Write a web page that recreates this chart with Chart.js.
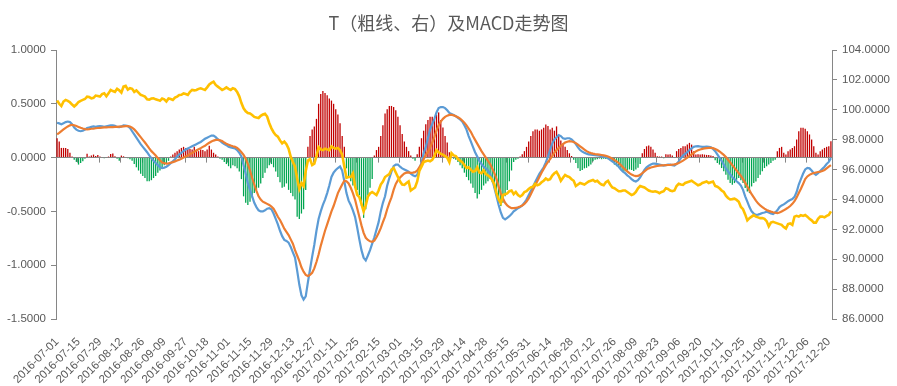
<!DOCTYPE html>
<html>
<head>
<meta charset="utf-8">
<script src="https://cdn.jsdelivr.net/npm/chart.js@4.4.1/dist/chart.umd.min.js"></script>
<style>
    body { margin: 0; background: #fff; }
    #wrap { width: 897px; height: 386px; }
</style>
</head>
<body>
<div id="wrap"><canvas id="macdChart"></canvas></div>
<script>
// Tick labels on the x axis (one every 10 trading days)
const tickLabels = [
    '2016-07-01','2016-07-15','2016-07-29','2016-08-12','2016-08-26','2016-09-09','2016-09-27',
    '2016-10-18','2016-11-01','2016-11-15','2016-11-29','2016-12-13','2016-12-27','2017-01-11',
    '2017-01-25','2017-02-15','2017-03-01','2017-03-15','2017-03-29','2017-04-14','2017-04-28',
    '2017-05-15','2017-05-31','2017-06-14','2017-06-28','2017-07-12','2017-07-26','2017-08-09',
    '2017-08-23','2017-09-06','2017-09-20','2017-10-11','2017-10-25','2017-11-08','2017-11-22',
    '2017-12-06','2017-12-20'
];

// T futures close (right axis, thick yellow line)
const tPrice = [
    100.62,100.4,100.25,100.55,100.66,100.6,100.5,100.35,100.22,100.35,
    100.52,100.6,100.66,100.72,100.88,100.85,100.77,100.8,100.95,100.92,
    100.88,101.05,101.1,100.9,101.1,101.33,101.25,101.2,101.4,101.3,
    101.15,101.55,101.6,101.35,101.45,101.4,101.2,101.3,101.15,101.0,
    100.95,100.88,100.7,100.68,100.75,100.77,100.7,100.66,100.6,100.75,
    100.7,100.55,100.75,100.72,100.66,100.82,100.88,100.99,101.0,101.1,
    101.05,100.99,101.2,101.33,101.3,101.33,101.4,101.44,101.38,101.33,
    101.5,101.7,101.8,101.88,101.66,101.55,101.44,101.33,101.4,101.5,
    101.4,101.33,101.44,101.38,101.2,100.9,100.45,100.1,99.9,99.78,
    99.75,99.65,99.52,99.48,99.45,99.6,99.68,99.73,99.55,99.1,
    98.76,98.5,98.3,98.2,97.95,97.75,97.87,97.7,97.4,96.85,
    96.5,96.2,95.4,94.7,95.1,94.9,95.9,96.6,96.7,96.3,
    96.4,96.9,97.5,97.35,97.3,97.4,97.35,97.3,97.55,97.45,
    97.4,97.45,97.3,97.0,96.2,95.45,95.5,95.5,95.75,94.9,
    94.3,94.15,93.7,93.2,93.6,94.2,94.4,94.5,94.4,94.3,
    94.6,95.0,95.2,95.5,95.6,95.7,96.0,96.1,95.8,95.5,
    95.2,95.0,94.97,95.1,95.2,94.6,94.7,94.8,95.2,95.9,
    96.2,96.5,96.55,96.6,96.55,96.65,96.9,97.3,97.15,97.05,
    97.0,96.9,96.8,96.5,97.1,96.95,96.9,96.7,96.6,96.5,
    96.3,96.1,96.15,96.0,95.85,95.9,96.15,95.8,95.75,95.95,
    95.7,95.6,95.5,95.3,95.0,94.4,94.0,93.75,94.3,94.35,
    94.4,94.55,94.6,94.35,94.5,94.3,94.2,94.3,94.5,94.55,
    94.7,94.8,94.85,95.05,94.95,95.0,95.15,95.25,95.4,95.3,
    95.35,95.6,95.75,95.85,95.6,95.25,95.45,95.64,95.55,95.5,
    95.35,95.25,94.9,95.0,95.1,95.05,95.0,95.1,95.2,95.25,
    95.3,95.2,95.25,95.1,95.0,94.95,95.15,95.25,95.0,94.8,
    94.75,94.65,94.55,94.55,94.6,94.6,94.5,94.4,94.3,94.35,
    94.5,94.75,94.9,94.85,94.8,94.7,94.6,94.55,94.52,94.55,
    94.5,94.42,94.5,94.55,94.75,94.7,94.6,94.55,94.6,94.9,
    95.05,95.0,94.97,95.1,95.15,95.2,95.25,95.15,95.05,94.95,
    95.0,95.1,95.15,95.2,95.1,95.15,95.2,94.9,94.85,94.75,
    94.6,94.5,94.25,94.1,94.0,94.02,94.05,93.97,93.85,93.5,
    93.35,93.0,92.6,92.75,92.85,92.95,92.85,92.8,92.75,92.75,
    92.7,92.55,92.2,92.45,92.5,92.45,92.4,92.35,92.3,92.15,
    92.05,92.35,92.4,92.3,92.85,92.9,92.85,92.95,92.9,92.96,
    92.85,92.7,92.6,92.45,92.45,92.7,92.85,92.85,92.8,92.9,
    92.96,93.2
];

// DIF (blue line, left axis)
const dif = [
    0.324,0.318,0.31,0.32,0.33,0.335,0.33,0.31,0.28,0.26,
    0.25,0.245,0.25,0.26,0.275,0.28,0.285,0.29,0.285,0.29,
    0.293,0.29,0.285,0.29,0.295,0.3,0.3,0.295,0.285,0.283,
    0.29,0.3,0.298,0.293,0.275,0.245,0.215,0.185,0.155,0.125,
    0.1,0.075,0.05,0.02,-0.005,-0.03,-0.05,-0.07,-0.09,-0.097,
    -0.093,-0.085,-0.07,-0.052,-0.035,-0.015,0.01,0.03,0.044,0.06,
    0.075,0.085,0.095,0.105,0.115,0.125,0.135,0.145,0.16,0.175,
    0.185,0.195,0.205,0.205,0.19,0.17,0.158,0.14,0.125,0.115,
    0.1,0.095,0.09,0.085,0.07,0.045,0.012,-0.07,-0.15,-0.24,
    -0.3,-0.36,-0.42,-0.46,-0.49,-0.5,-0.5,-0.49,-0.475,-0.47,
    -0.48,-0.52,-0.57,-0.62,-0.68,-0.73,-0.765,-0.775,-0.79,-0.83,
    -0.88,-0.93,-1.05,-1.18,-1.28,-1.32,-1.29,-1.16,-1.04,-0.92,
    -0.81,-0.68,-0.57,-0.5,-0.44,-0.39,-0.33,-0.26,-0.18,-0.14,
    -0.115,-0.097,-0.082,-0.12,-0.22,-0.33,-0.4,-0.44,-0.49,-0.55,
    -0.65,-0.76,-0.86,-0.93,-0.955,-0.91,-0.86,-0.8,-0.74,-0.67,
    -0.6,-0.5,-0.42,-0.36,-0.26,-0.19,-0.13,-0.08,-0.065,-0.065,
    -0.085,-0.1,-0.11,-0.12,-0.13,-0.15,-0.165,-0.174,-0.16,-0.1,
    -0.05,0.04,0.1,0.18,0.26,0.31,0.36,0.42,0.46,0.47,
    0.47,0.46,0.44,0.415,0.405,0.395,0.385,0.37,0.355,0.335,
    0.3,0.26,0.2,0.15,0.1,0.05,0.01,-0.03,-0.06,-0.085,
    -0.1,-0.12,-0.15,-0.2,-0.28,-0.36,-0.44,-0.51,-0.56,-0.575,
    -0.56,-0.545,-0.525,-0.5,-0.485,-0.47,-0.46,-0.445,-0.42,-0.39,
    -0.35,-0.31,-0.27,-0.23,-0.19,-0.15,-0.12,-0.09,-0.045,0.01,
    0.07,0.13,0.17,0.19,0.21,0.2,0.18,0.175,0.18,0.18,
    0.17,0.15,0.125,0.095,0.07,0.055,0.045,0.035,0.03,0.028,
    0.025,0.022,0.02,0.018,0.012,0.008,0.005,-0.005,-0.02,-0.035,
    -0.05,-0.065,-0.085,-0.11,-0.13,-0.145,-0.165,-0.18,-0.2,-0.215,
    -0.222,-0.21,-0.185,-0.15,-0.115,-0.09,-0.075,-0.065,-0.055,-0.056,
    -0.06,-0.065,-0.07,-0.075,-0.07,-0.065,-0.065,-0.07,-0.075,-0.06,
    -0.035,-0.005,0.02,0.035,0.05,0.07,0.085,0.1,0.105,0.106,
    0.103,0.1,0.1,0.102,0.1,0.095,0.08,0.06,0.03,0.0,
    -0.03,-0.065,-0.1,-0.128,-0.155,-0.18,-0.2,-0.22,-0.237,-0.26,
    -0.3,-0.36,-0.41,-0.46,-0.5,-0.52,-0.533,-0.53,-0.523,-0.515,
    -0.51,-0.503,-0.51,-0.52,-0.525,-0.51,-0.49,-0.46,-0.445,-0.435,
    -0.42,-0.405,-0.395,-0.385,-0.365,-0.32,-0.25,-0.2,-0.15,-0.11,
    -0.095,-0.1,-0.12,-0.145,-0.16,-0.145,-0.125,-0.105,-0.085,-0.06,
    -0.04,-0.005
];

// DEA (orange line, left axis)
const dea = [
    0.215,0.23,0.246,0.262,0.277,0.29,0.3,0.305,0.3,0.293,
    0.285,0.277,0.27,0.265,0.263,0.265,0.268,0.27,0.273,0.275,
    0.277,0.279,0.28,0.281,0.282,0.283,0.284,0.285,0.286,0.287,
    0.288,0.29,0.292,0.292,0.288,0.278,0.262,0.24,0.215,0.19,
    0.165,0.14,0.113,0.085,0.06,0.04,0.02,-0.005,-0.025,-0.045,
    -0.052,-0.056,-0.054,-0.048,-0.042,-0.035,-0.027,-0.019,-0.01,0.0,
    0.01,0.02,0.033,0.043,0.055,0.066,0.078,0.088,0.1,0.11,
    0.125,0.138,0.15,0.158,0.164,0.165,0.16,0.154,0.14,0.128,
    0.12,0.112,0.105,0.1,0.09,0.072,0.05,0.025,-0.01,-0.06,
    -0.12,-0.19,-0.25,-0.31,-0.36,-0.39,-0.41,-0.42,-0.43,-0.44,
    -0.455,-0.475,-0.51,-0.55,-0.58,-0.62,-0.66,-0.69,-0.72,-0.76,
    -0.8,-0.86,-0.91,-0.96,-1.02,-1.06,-1.09,-1.1,-1.09,-1.07,
    -1.03,-0.97,-0.9,-0.82,-0.75,-0.68,-0.62,-0.56,-0.5,-0.45,
    -0.39,-0.33,-0.29,-0.25,-0.215,-0.22,-0.24,-0.28,-0.33,-0.39,
    -0.47,-0.55,-0.63,-0.7,-0.745,-0.765,-0.778,-0.782,-0.772,-0.74,
    -0.7,-0.655,-0.6,-0.548,-0.48,-0.42,-0.37,-0.3,-0.245,-0.21,
    -0.185,-0.165,-0.148,-0.14,-0.137,-0.142,-0.14,-0.135,-0.12,-0.09,
    -0.06,-0.015,0.025,0.05,0.09,0.14,0.19,0.25,0.3,0.335,
    0.36,0.378,0.39,0.397,0.398,0.393,0.385,0.375,0.363,0.345,
    0.325,0.3,0.27,0.24,0.2,0.165,0.13,0.095,0.06,0.03,
    0.0,-0.03,-0.06,-0.1,-0.145,-0.2,-0.27,-0.33,-0.38,-0.42,
    -0.445,-0.46,-0.47,-0.47,-0.468,-0.462,-0.455,-0.445,-0.43,-0.408,
    -0.38,-0.34,-0.3,-0.26,-0.22,-0.18,-0.14,-0.105,-0.07,-0.04,
    -0.015,0.015,0.045,0.07,0.09,0.11,0.125,0.14,0.148,0.153,
    0.15,0.145,0.135,0.12,0.105,0.09,0.075,0.06,0.05,0.042,
    0.037,0.033,0.03,0.027,0.024,0.02,0.016,0.01,0.0,-0.01,
    -0.022,-0.035,-0.05,-0.07,-0.09,-0.11,-0.128,-0.145,-0.158,-0.166,
    -0.172,-0.17,-0.16,-0.145,-0.128,-0.112,-0.1,-0.092,-0.087,-0.082,
    -0.078,-0.075,-0.073,-0.071,-0.07,-0.069,-0.068,-0.066,-0.063,-0.058,
    -0.05,-0.04,-0.028,-0.015,0.0,0.015,0.03,0.045,0.058,0.068,
    0.075,0.081,0.085,0.088,0.09,0.09,0.088,0.08,0.07,0.057,
    0.042,0.025,0.005,-0.02,-0.045,-0.07,-0.095,-0.12,-0.145,-0.17,
    -0.2,-0.235,-0.27,-0.305,-0.34,-0.37,-0.4,-0.425,-0.445,-0.46,
    -0.475,-0.487,-0.495,-0.502,-0.508,-0.512,-0.515,-0.51,-0.5,-0.49,
    -0.478,-0.465,-0.45,-0.43,-0.405,-0.37,-0.33,-0.29,-0.245,-0.2,
    -0.175,-0.16,-0.15,-0.143,-0.138,-0.134,-0.13,-0.125,-0.115,-0.1,
    -0.085,-0.07
];

// MACD histogram bars (left axis)
const macdBar = [
    0.18,0.15,0.09,0.09,0.09,0.08,0.045,0.01,-0.02,-0.04,
    -0.065,-0.05,-0.035,-0.01,0.035,0.01,0.02,0.028,0.015,0.025,
    0.01,0.005,-0.005,0.005,0.01,0.034,0.037,0.012,-0.01,-0.03,
    0.019,0.012,0.005,-0.005,-0.015,-0.03,-0.06,-0.09,-0.12,-0.15,
    -0.17,-0.19,-0.22,-0.22,-0.21,-0.19,-0.17,-0.14,-0.12,-0.09,
    -0.07,-0.05,-0.03,0.01,0.028,0.044,0.059,0.075,0.09,0.1,
    0.09,0.09,0.08,0.075,0.1,0.075,0.06,0.075,0.07,0.06,
    0.075,0.11,0.075,0.045,0.028,0.01,-0.01,-0.02,-0.04,-0.06,
    -0.08,-0.1,-0.07,-0.08,-0.1,-0.13,-0.2,-0.36,-0.42,-0.44,
    -0.41,-0.37,-0.33,-0.3,-0.28,-0.24,-0.19,-0.14,-0.1,-0.07,
    -0.06,-0.09,-0.13,-0.18,-0.23,-0.28,-0.27,-0.24,-0.3,-0.33,
    -0.36,-0.39,-0.55,-0.57,-0.52,-0.48,-0.3,0.1,0.2,0.26,
    0.29,0.36,0.5,0.59,0.62,0.6,0.58,0.55,0.53,0.5,
    0.45,0.4,0.32,0.2,0.1,-0.1,-0.18,-0.22,-0.26,-0.28,
    -0.3,-0.35,-0.45,-0.56,-0.48,-0.35,-0.28,-0.2,0.02,0.07,
    0.1,0.2,0.3,0.41,0.45,0.48,0.48,0.47,0.44,0.38,
    0.3,0.22,0.15,0.1,0.06,0.02,-0.01,-0.03,0.03,0.1,
    0.18,0.25,0.31,0.35,0.38,0.38,0.36,0.4,0.42,0.35,
    0.28,0.2,0.14,0.05,0.01,-0.01,-0.02,-0.04,-0.07,-0.1,
    -0.14,-0.18,-0.21,-0.24,-0.28,-0.33,-0.38,-0.34,-0.3,-0.26,
    -0.24,-0.22,-0.2,-0.23,-0.28,-0.35,-0.42,-0.45,-0.42,-0.36,
    -0.3,-0.22,-0.12,-0.04,-0.02,-0.01,0.01,0.03,0.06,0.1,
    0.15,0.2,0.245,0.26,0.262,0.25,0.262,0.277,0.308,0.293,
    0.262,0.277,0.25,0.29,0.2,0.16,0.13,0.1,0.07,0.04,
    0.015,-0.02,-0.05,-0.1,-0.125,-0.115,-0.1,-0.095,-0.08,-0.065,
    -0.035,-0.02,-0.015,-0.01,-0.015,-0.01,-0.012,-0.015,-0.02,-0.04,
    -0.065,-0.08,-0.095,-0.11,-0.125,-0.128,-0.12,-0.11,-0.115,-0.125,
    -0.11,-0.095,-0.06,0.04,0.08,0.105,0.112,0.1,0.075,0.044,
    0.012,0.01,0.01,-0.005,0.03,0.028,0.03,0.02,-0.005,0.06,
    0.08,0.09,0.106,0.106,0.121,0.137,0.121,0.06,0.028,0.03,
    0.028,0.03,0.028,0.025,0.025,0.02,0.015,-0.025,-0.05,-0.065,
    -0.097,-0.128,-0.159,-0.206,-0.237,-0.252,-0.237,-0.206,-0.19,-0.21,
    -0.237,-0.283,-0.315,-0.33,-0.268,-0.237,-0.221,-0.19,-0.16,-0.128,
    -0.097,-0.081,-0.065,-0.05,-0.03,-0.02,0.06,0.09,0.1,0.044,
    0.028,0.059,0.075,0.09,0.106,0.168,0.246,0.277,0.277,0.268,
    0.246,0.215,0.168,0.106,0.044,0.028,0.059,0.075,0.09,0.1,
    0.106,0.153
];

// one category per trading day, only every 10th gets a date
const categories = macdBar.map((v, i) => (i % 10 === 0 ? tickLabels[i / 10] : ''));

const axisGray = '#868686';
const textGray = '#595959';
const tickFont = { family: "'Liberation Sans', Arial, sans-serif", size: 11.5 };

// small tick marks hanging under the zero line, every 10 categories
const zeroTicks = {
    id: 'zeroTicks',
    beforeDatasetsDraw(chart) {
        const xs = chart.scales.x;
        const y0 = chart.scales.y.getPixelForValue(0);
        const half = (xs.getPixelForValue(1) - xs.getPixelForValue(0)) / 2;
        const c = chart.ctx;
        c.save();
        c.strokeStyle = axisGray;
        c.lineWidth = 1;
        c.beginPath();
        for (let i = 0; i < categories.length; i += 10) {
            const x = Math.round(xs.getPixelForValue(i) - half) + 0.5;
            c.moveTo(x, y0);
            c.lineTo(x, y0 + 5);
        }
        c.stroke();
        c.restore();
    }
};

let ctx = document.getElementById('macdChart').getContext('2d');
let chart = new Chart(ctx, {
    type: 'bar',
    data: {
        labels: categories,
        datasets: [
            {
                type: 'line',
                label: 'T',
                data: tPrice,
                yAxisID: 'y1',
                borderColor: '#FFC000',
                borderWidth: 2.6,
                pointRadius: 0,
                tension: 0,
                order: 0
            },
            {
                type: 'line',
                label: 'DEA',
                data: dea,
                yAxisID: 'y',
                borderColor: '#ED7D31',
                borderWidth: 2.2,
                pointRadius: 0,
                tension: 0,
                order: 1
            },
            {
                type: 'line',
                label: 'DIF',
                data: dif,
                yAxisID: 'y',
                borderColor: '#5B9BD5',
                borderWidth: 2.2,
                pointRadius: 0,
                tension: 0,
                order: 2
            },
            {
                type: 'bar',
                label: 'MACD',
                data: macdBar,
                yAxisID: 'y',
                backgroundColor: c => (c.raw >= 0 ? '#C00000' : '#00A550'),
                barPercentage: 0.6,
                categoryPercentage: 1,
                inflateAmount: 0,
                order: 3
            }
        ]
    },
    options: {
        responsive: true,
        maintainAspectRatio: false,
        animation: false,
        layout: { padding: 0 },
        plugins: {
            legend: { display: false },
            tooltip: { enabled: false },
            title: {
                display: true,
                text: 'T（粗线、右）及MACD走势图',
                color: textGray,
                font: { family: "'Noto Sans CJK SC', sans-serif", size: 18, weight: 'normal' },
                padding: { top: 12, bottom: 16.4 }
            }
        },
        scales: {
            x: {
                offset: true,
                grid: { display: false },
                border: { display: false },
                ticks: {
                    autoSkip: false,
                    minRotation: 45,
                    maxRotation: 45,
                    padding: 8,
                    color: textGray,
                    font: tickFont,
                    callback: function (value) {
                        const lab = this.getLabelForValue(value);
                        return lab === '' ? null : lab;
                    }
                },
                afterFit: s => { s.height = 67; }
            },
            y: {
                position: 'left',
                min: -1.5,
                max: 1.0,
                ticks: {
                    stepSize: 0.5,
                    padding: 5,
                    color: textGray,
                    font: tickFont,
                    callback: v => Number(v).toFixed(4)
                },
                grid: {
                    color: c => (Math.abs(c.tick.value) < 1e-9 ? axisGray : 'rgba(0,0,0,0)'),
                    tickColor: axisGray,
                    tickLength: 5
                },
                border: { color: axisGray },
                afterFit: s => { s.width = 56; }
            },
            y1: {
                position: 'right',
                min: 86,
                max: 104,
                ticks: {
                    stepSize: 2,
                    padding: 5,
                    color: textGray,
                    font: tickFont,
                    callback: v => Number(v).toFixed(4)
                },
                grid: {
                    drawOnChartArea: false,
                    tickColor: axisGray,
                    tickLength: 5
                },
                border: { color: axisGray },
                afterFit: s => { s.width = 65; }
            }
        }
    },
    plugins: [zeroTicks]
});
</script>
</body>
</html>
